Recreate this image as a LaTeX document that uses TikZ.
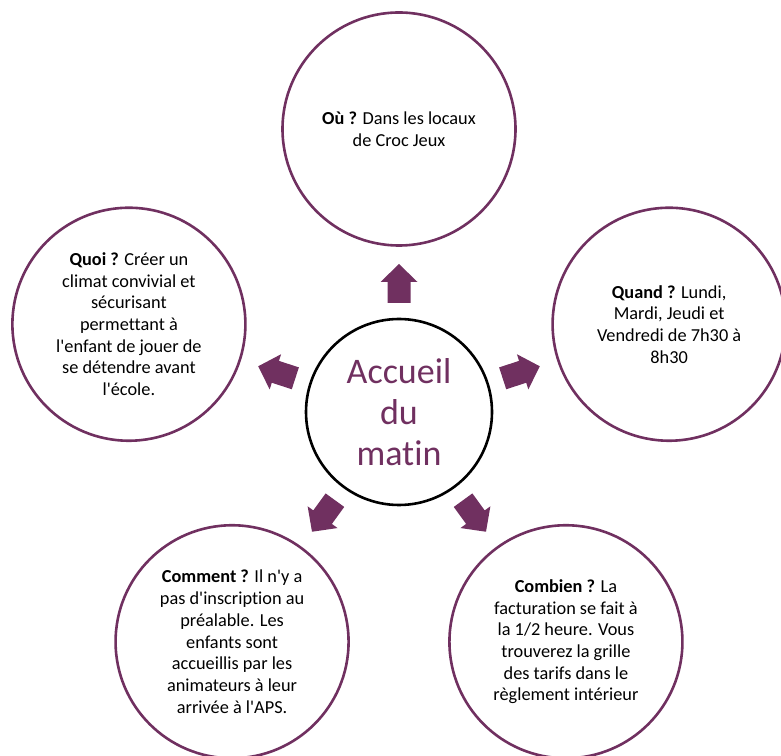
\documentclass[tikz,border=0pt]{standalone}
\usepackage{fontspec}
\setmainfont[Ligatures={NoCommon}]{Carlito}
\usetikzlibrary{calc}
\definecolor{plum}{RGB}{112,48,96}
\newcommand{\ap}{\textquotesingle}
\begin{document}
\begin{tikzpicture}[x=1pt,y=1pt,
  outer/.style={circle,draw=plum,line width=2.6pt,minimum size=233pt,inner sep=0pt},
  body/.style={align=center,font=\fontsize{18.3}{21.7}\selectfont,text=black},
  arr/.style={fill=plum,draw=none}]
\useasboundingbox (0,0) rectangle (781,755);
\clip (0,0) rectangle (781,755);
\coordinate (c) at (399,343);
% centre circle
\node[circle,draw=black,line width=2.6pt,minimum size=186pt,inner sep=0pt] (mid) at (c) {};
\node[align=center,text=plum,font=\fontsize{36}{41}\selectfont] (midtxt) at (c) {Accueil\\du\\matin};
% outer circles
\node[outer] (ou) at ($(c)+(90:283)$) {};
\node[outer] (quand) at ($(c)+(18:284)$) {};
\node[outer] (combien) at ($(c)+(-54:284)$) {};
\node[outer] (comment) at ($(c)+(234:284)$) {};
\node[outer] (quoi) at ($(c)+(162:284)$) {};
% texts
\node[body] (tou) at (ou) {\textbf{Où ?} Dans les locaux\\de Croc Jeux};
\node[body] (tquand) at (quand) {\textbf{Quand ?} Lundi,\\Mardi, Jeudi et\\Vendredi de 7h30 à\\8h30};
\node[body] (tcombien) at (combien) {\textbf{Combien ?} La\\facturation se fait à\\la 1/2 heure. Vous\\trouverez la grille\\des tarifs dans le\\règlement intérieur};
\node[body] (tcomment) at (comment) {\textbf{Comment ?} Il n\ap y a\\pas d\ap inscription au\\préalable. Les\\enfants sont\\accueillis par les\\animateurs à leur\\arrivée à l\ap APS.};
\node[body] (tquoi) at (quoi) {\textbf{Quoi ?} Créer un\\climat convivial et\\sécurisant\\permettant à\\l\ap enfant de jouer de\\se détendre avant\\l\ap école.};
% arrows
\foreach \a in {90,18,-54,234,162}{
  \begin{scope}[shift={(c)},rotate=\a]
    \fill[arr] (109,-11.5) -- (130,-11.5) -- (130,-18.5) -- (148,0) -- (130,18.5) -- (130,11.5) -- (109,11.5) -- cycle;
  \end{scope}
}
\end{tikzpicture}
\end{document}
